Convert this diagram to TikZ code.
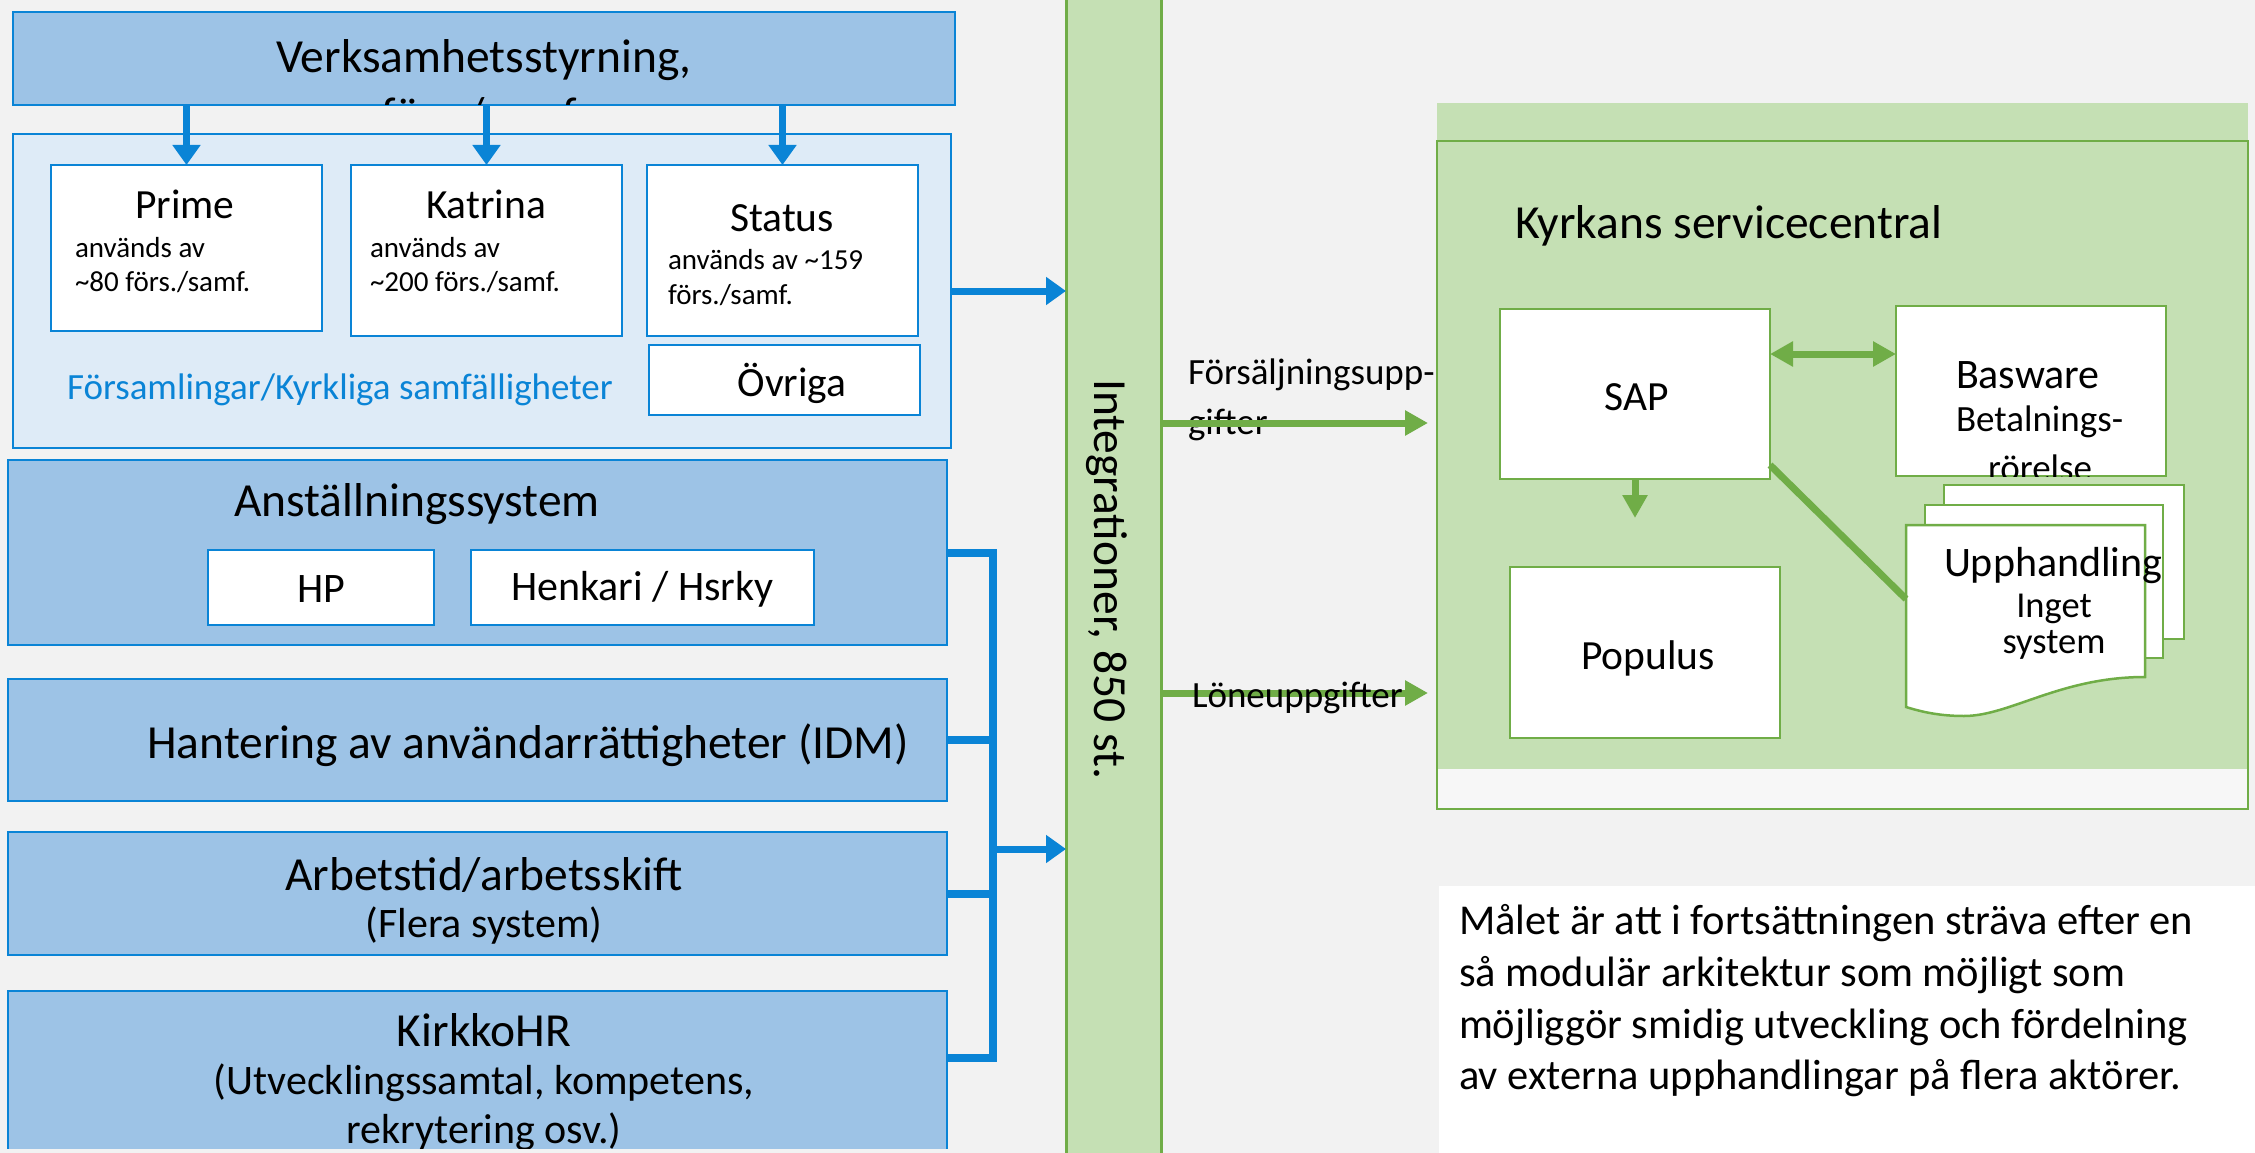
\documentclass[tikz,border=0pt]{standalone}
\usepackage{fontspec}
\setmainfont{Carlito}
\usetikzlibrary{arrows.meta}
\definecolor{bg}{HTML}{F2F2F2}
\definecolor{bfill}{HTML}{9DC3E6}
\definecolor{bline}{HTML}{0A84D6}
\definecolor{lfill}{HTML}{DEEBF7}
\definecolor{gfill}{HTML}{C5E0B4}
\definecolor{gline}{HTML}{70AD47}
\definecolor{strip}{HTML}{F7F7F7}
\begin{document}
\begin{tikzpicture}[x=1pt,y=-1pt,
  every node/.style={inner sep=0pt, outer sep=0pt},
  bbox/.style={draw=bline, fill=bfill, line width=2.5pt},
  lbox/.style={draw=bline, fill=lfill, line width=2.5pt},
  wbox/.style={draw=bline, fill=white, line width=2.5pt},
  gwbox/.style={draw=gline, fill=white, line width=2.5pt},
  big/.style={font=\fontsize{47.5}{58}\selectfont},
  mid/.style={font=\fontsize{41.5}{51}\selectfont},
  sml/.style={font=\fontsize{29}{35}\selectfont},
  lbl/.style={font=\fontsize{37}{45}\selectfont},
  sub/.style={font=\fontsize{42}{51}\selectfont},
  barrow/.style={draw=bline, line width=7pt, -{Triangle[length=20pt,width=27pt]}},
  bus/.style={draw=bline, line width=8pt, line join=miter},
  garrow/.style={draw=gline, line width=7pt, -{Triangle[length=23pt,width=24pt]}},
  gdarrow/.style={draw=gline, line width=7pt, {Triangle[length=23pt,width=24pt]}-{Triangle[length=23pt,width=24pt]}},
  gline/.style={draw=gline, line width=7pt}
]
\useasboundingbox (0,0) rectangle (2255,1153);
\clip (0,0) rectangle (2255,1153);
\fill[bg] (0,0) rectangle (2255,1153);

% ---------- left column ----------
\node[bbox, minimum width=942pt, minimum height=93pt] (verk) at (484,58.5) {};
\begin{scope}
  \clip (13,12) rectangle (955,105);
  \node[big, anchor=base] (verkt1) at (484,73) {Verksamhetsstyrning,};
  \node[big, anchor=base] (verkt2) at (484,131) {förs./samf.};
\end{scope}

\node[lbox, minimum width=938pt, minimum height=314pt] (fors) at (482,291) {};
\node[wbox, minimum width=271pt, minimum height=166pt] (prime) at (186.5,248) {};
\node[wbox, minimum width=271pt, minimum height=171pt] (katr) at (486.5,250.5) {};
\node[wbox, minimum width=271pt, minimum height=171pt] (stat) at (782.5,250.5) {};
\node[wbox, minimum width=271pt, minimum height=70pt] (ovr) at (784.5,380) {};

\node[mid] (primet) at (185,204) {Prime};
\node[sml, anchor=west] (prime1) at (75,248) {används av};
\node[sml, anchor=west] (prime2) at (75,282) {\textasciitilde80 förs./samf.};
\node[mid] (katrt) at (486,204) {Katrina};
\node[sml, anchor=west] (katr1) at (370,248) {används av};
\node[sml, anchor=west] (katr2) at (370,282) {\textasciitilde200 förs./samf.};
\node[mid] (statt) at (782,218) {Status};
\node[sml, anchor=west] (stat1) at (668,260) {används av \textasciitilde159};
\node[sml, anchor=west] (stat2) at (668,295) {förs./samf.};
\node[mid] (ovrt) at (792,383) {Övriga};
\node[font=\fontsize{37}{45}\selectfont, text=bline, anchor=west] (forst) at (67,390) {Församlingar/Kyrkliga samfälligheter};

\draw[barrow] (prime.north |- verk.south) -- (prime.north);
\draw[barrow] (katr.north |- verk.south) -- (katr.north);
\draw[barrow] (stat.north |- verk.south) -- (stat.north);

\node[bbox, minimum width=939pt, minimum height=185pt] (anst) at (477.5,552.5) {};
\node[big] (anstt) at (417,504) {Anställningssystem};
\node[wbox, minimum width=226pt, minimum height=75pt] (hp) at (321,587.5) {};
\node[wbox, minimum width=343pt, minimum height=75pt] (henk) at (642.5,587.5) {};
\node[sub] (hpt) at (321,589) {HP};
\node[sub] (henkt) at (642.5,589) {Henkari / Hsrky};

\node[bbox, minimum width=939pt, minimum height=122pt] (hant) at (477.5,740) {};
\node[big] (hantt) at (528,745) {Hantering av användarrättigheter (IDM)};

\node[bbox, minimum width=939pt, minimum height=123pt] (arb) at (477.5,893.5) {};
\node[big] (arbt) at (484,875) {Arbetstid/arbetsskift};
\node[sub] (arbt2) at (484,926) {(Flera system)};

\begin{scope}
  \clip (0,900) rectangle (970,1148);
  \node[bbox, minimum width=939pt, minimum height=209pt] (kirk) at (477.5,1095.5) {};
  \node[big] (kirkt) at (484,1030) {KirkkoHR};
  \node[sub] (kirkt2) at (484,1083) {(Utvecklingssamtal, kompetens,};
  \node[sub, anchor=base] (kirkt3) at (484,1143) {rekrytering osv.)};
\end{scope}

% ---------- integration bar ----------
\node[draw=gline, fill=gfill, line width=3pt, minimum width=95pt, minimum height=1165pt] (integ) at (1113.5,577.5) {};
\node[big, rotate=-90] (integt) at (1107,579) {Integrationer, 850 st.};

\draw[barrow] (fors.east) -- (fors.east -| integ.west);
\coordinate (bt) at (993,552.5);
\coordinate (bb) at (993,1058);
\coordinate (bm) at (993,849);
\draw[bus] (anst.east) -- (bt) -- (bb) -- (bb -| kirk.east);
\draw[bus] (hant.east) -- (hant.east -| bt);
\draw[bus] (arb.east) -- (arb.east -| bt);
\draw[barrow] (bm) -- (bm -| integ.west);

% ---------- service centre ----------
\fill[strip] (1437,141) rectangle (2248,809);
\fill[gfill] (1437,103) rectangle (2248,769);
\node[draw=gline, line width=2.5pt, minimum width=811pt, minimum height=668pt] (ksc) at (1842.5,475) {};
\node[big, anchor=west] (ksct) at (1515,226) {Kyrkans servicecentral};

\node[lbl, anchor=west] (fsl1) at (1188,375) {Försäljningsupp-};
\node[lbl, anchor=west] (fsl2) at (1188,425) {gifter};
\coordinate (ga) at (1428,423);
\coordinate (gb) at (1428,693);
\draw[garrow] (ga -| integ.east) -- (ga);
\draw[garrow] (gb -| integ.east) -- (gb);
\node[lbl, anchor=west] (lon) at (1192,698) {Löneuppgifter};

\node[gwbox, minimum width=270pt, minimum height=170pt] (sap) at (1635,394) {};
\node[mid] (sapt) at (1637,397) {SAP};
\node[gwbox, minimum width=270pt, minimum height=170pt] (basw) at (2031,391) {};
\begin{scope}
  \clip (1896,306) rectangle (2166,476);
  \node[font=\fontsize{42}{51}\selectfont, anchor=west] (baswt) at (1956,375) {Basware};
  \node[lbl, anchor=west] (baswt2) at (1956,422) {Betalnings-};
  \node[lbl] (baswt3) at (2040,468) {rörelse};
\end{scope}
\node[gwbox, minimum width=270pt, minimum height=171pt] (pop) at (1645,652.5) {};
\node[mid] (popt) at (1648,658) {Populus};

\coordinate (dA) at ([yshift=40pt]sap.east);
\draw[gdarrow] (dA) -- (dA -| basw.west);
\draw[garrow] (sap.south) -- ++(0,39);

% multi-document
\draw[gwbox] (1944,485) rectangle (2184,639);
\draw[gwbox] (1925,505) rectangle (2163,658);
\draw[gwbox] (1906,525) -- (2145,525) -- (2145,677)
  .. controls (2060,677) and (2010,716) .. (1964,716)
  .. controls (1940,716) and (1922,712) .. (1906,707) -- cycle;
\coordinate (updoc) at (1906,599);
\draw[gline] ([yshift=14pt]sap.south east) -- (updoc);
\node[font=\fontsize{42}{51}\selectfont, anchor=west] (upt) at (1944,566) {Upphandling};
\node[font=\fontsize{36.5}{44}\selectfont] (upt2) at (2054,609) {Inget};
\node[font=\fontsize{36.5}{44}\selectfont] (upt3) at (2054,645) {system};

% ---------- goal text ----------
\fill[white] (1439,886) rectangle (2265,1160);
\node[font=\fontsize{42.5}{51.7}\selectfont, align=left, anchor=west] (goal) at (1459,1001)
 {Målet är att i fortsättningen sträva efter en\\så modulär arkitektur som möjligt som\\möjliggör smidig utveckling och fördelning\\av externa upphandlingar på flera aktörer.};
\end{tikzpicture}
\end{document}
